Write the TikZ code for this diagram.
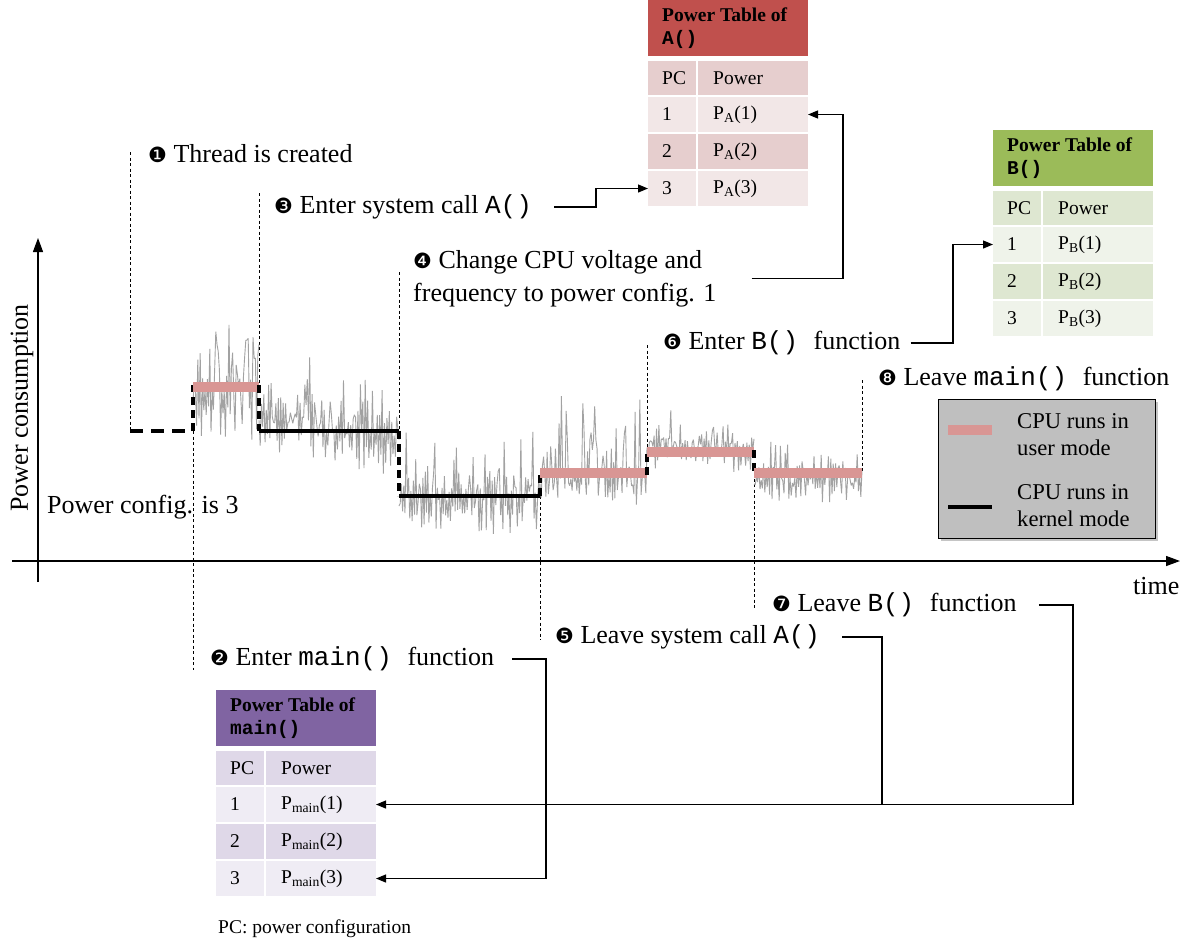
\documentclass[tikz,border=0pt]{standalone}
\usepackage{fontspec}
\setmainfont{Liberation Serif}
\setmonofont{Liberation Mono}
\newfontfamily\dingfont{DejaVu Sans}
\usetikzlibrary{arrows.meta,shadows}

\definecolor{userpink}{RGB}{217,150,148}
\definecolor{noisegray}{RGB}{162,162,162}
\definecolor{headA}{RGB}{192,80,77}
\definecolor{darkA}{RGB}{230,206,206}
\definecolor{lightA}{RGB}{242,231,231}
\definecolor{headB}{RGB}{155,187,89}
\definecolor{darkB}{RGB}{222,231,209}
\definecolor{lightB}{RGB}{239,243,234}
\definecolor{headM}{RGB}{128,100,162}
\definecolor{darkM}{RGB}{223,216,232}
\definecolor{lightM}{RGB}{239,236,244}
\definecolor{legendgray}{RGB}{191,191,191}

\newcommand{\tabfont}{\fontsize{19.5}{23.5}\selectfont}
\newcommand{\lblfont}{\fontsize{26}{33}\selectfont}
\newcommand{\legfont}{\fontsize{22.6}{27}\selectfont}
\newcommand{\stepnum}[1]{{\dingfont\fontsize{21}{21}\selectfont #1}}

\tikzset{
  cellbox/.style={anchor=north west, inner sep=0pt, outer sep=0pt, draw=none},
  cellL/.style={cellbox, minimum width=48pt, minimum height=35pt},
  cellR/.style={cellbox, minimum width=110pt, minimum height=35pt},
  headcell/.style={cellbox, minimum width=160pt, minimum height=56pt},
  celltxt/.style={anchor=west, inner sep=0pt, font=\tabfont, align=left},
  lbl/.style={anchor=west, inner sep=0pt, font=\lblfont, align=left},
  legtxt/.style={anchor=west, inner sep=0pt, font=\legfont, align=left},
  event/.style={line width=0.9pt, dash pattern=on 3pt off 2.5pt},
  conn/.style={line width=1.2pt, -{Triangle[length=10pt,width=8pt]}},
  plain/.style={line width=1.2pt},
  axis/.style={line width=1.3pt, -{Triangle[length=14pt,width=10pt]}},
  noise/.style={line width=0.9pt, color=noisegray, line join=bevel},
  usermode/.style={line width=10pt, color=userpink},
  kernelmode/.style={line width=4pt, black},
  switch/.style={line width=4pt, black, dash pattern=on 8pt off 5pt},
  idle/.style={line width=4pt, black, dash pattern=on 13pt off 8pt}
}

% one power table: prefix, x, top y, header colour, dark band, light band, function name, subscript
\newcommand{\ptable}[8]{%
  \node[headcell, fill=#4] (#1h) at (#2,#3) {};
  \node[celltxt, font=\tabfont\bfseries] at ([xshift=14pt]#1h.west) {Power Table of\\\texttt{\bfseries #7}};
  \node[cellL, fill=#5, minimum height=34pt] (#1pl) at (#2,{#3+61}) {};
  \node[cellR, fill=#5, minimum height=34pt] (#1pr) at ({#2+50},{#3+61}) {};
  \node[cellL, fill=#6] (#11l) at (#2,{#3+97}) {};
  \node[cellR, fill=#6] (#11r) at ({#2+50},{#3+97}) {};
  \node[cellL, fill=#5] (#12l) at (#2,{#3+134}) {};
  \node[cellR, fill=#5] (#12r) at ({#2+50},{#3+134}) {};
  \node[cellL, fill=#6] (#13l) at (#2,{#3+171}) {};
  \node[cellR, fill=#6] (#13r) at ({#2+50},{#3+171}) {};
  \node[celltxt] at ([xshift=14pt]#1pl.west) {PC};
  \node[celltxt] at ([xshift=15pt]#1pr.west) {Power};
  \node[celltxt] at ([xshift=14pt]#11l.west) {1};
  \node[celltxt] at ([xshift=15pt]#11r.west) {P\textsubscript{#8}(1)};
  \node[celltxt] at ([xshift=14pt]#12l.west) {2};
  \node[celltxt] at ([xshift=15pt]#12r.west) {P\textsubscript{#8}(2)};
  \node[celltxt] at ([xshift=14pt]#13l.west) {3};
  \node[celltxt] at ([xshift=15pt]#13r.west) {P\textsubscript{#8}(3)};
}

% measured power trace: x0, x1, samples, centre at x0, centre at x1, spread, spike height
\newcommand{\trace}[7]{%
  \draw[noise] (#1,#4) foreach \k in {1,...,#3} {
    -- ({#1+((#2-#1)/#3)*\k}, {#4+((#5-#4)/#3)*\k+#6*(2*mod(\k,2)-1)*rnd-#7*pow(rnd,3)}) };
}

\begin{document}
\begin{tikzpicture}[x=1pt,y=-1pt]
\useasboundingbox[fill=white] (0,0) rectangle (1191,946);
\pgfmathsetseed{11}

% axes
\draw[axis] (38,582) -- (38,238);
\draw[axis] (12,561) -- (1180,561);
\node[rotate=90, font=\lblfont, inner sep=0pt] (ylab) at (22,408) {Power consumption};
\node[lbl] (tlab) at (1133,586) {time};
\node[lbl] (pc3) at (47,507) {Power config. is 3};

% event markers
\draw[event] (130,152) -- (130,431);
\draw[event] (259,193) -- (259,387);
\draw[event] (399,272) -- (399,431);
\draw[event] (193,431) -- (193,670);
\draw[event] (540,496) -- (540,640);
\draw[event] (647,345) -- (647,452);
\draw[event] (754,473) -- (754,608);
\draw[event] (862,380) -- (862,473);

% power trace
\trace{193}{259}{55}{402}{402}{38}{100}
\trace{259}{399}{116}{420}{448}{32}{45}
\trace{399}{540}{118}{506}{508}{30}{55}
\trace{540}{647}{90}{484}{488}{18}{75}
\trace{647}{754}{90}{456}{456}{16}{32}
\trace{754}{862}{90}{484}{486}{18}{32}

% execution mode levels
\draw[idle] (130,431) -- (193,431);
\draw[switch] (193,431) -- (193,385);
\draw[usermode] (193,387) -- (259,387);
\draw[switch] (259,385) -- (259,431);
\draw[kernelmode] (259,431) -- (399,431);
\draw[switch] (399,431) -- (399,496);
\draw[kernelmode] (399,496) -- (540,496);
\draw[switch] (540,496) -- (540,471);
\draw[usermode] (540,473) -- (647,473);
\draw[switch] (647,475) -- (647,450);
\draw[usermode] (647,452) -- (754,452);
\draw[switch] (754,450) -- (754,475);
\draw[usermode] (754,473) -- (862,473);

% power tables
\ptable{A}{648}{0}{headA}{darkA}{lightA}{A()}{A}
\ptable{B}{993}{130}{headB}{darkB}{lightB}{B()}{B}
\ptable{M}{216}{690}{headM}{darkM}{lightM}{main()}{main}

% event labels
\node[lbl] (l1) at (148,154) {\stepnum{❶} Thread is created};
\node[lbl] (l3) at (274,207) {\stepnum{❸} Enter system call \texttt{A()}};
\node[lbl] (l4) at (413,278.5) {\stepnum{❹} Change CPU voltage and\\frequency to power config. 1};
\node[lbl] (l6) at (663,343) {\stepnum{❻} Enter \texttt{B()~}function};
\node[lbl] (l8) at (878,379) {\stepnum{❽} Leave \texttt{main()~}function};
\node[lbl] (l2) at (210,659) {\stepnum{❷} Enter \texttt{main()~}function};
\node[lbl] (l5) at (555,637) {\stepnum{❺} Leave system call \texttt{A()}};
\node[lbl] (l7) at (772,605) {\stepnum{❼} Leave \texttt{B()~}function};

% table lookups
\draw[conn] ([xshift=22pt]l3.east) -- ++(42,0) |- (A3l.west);
\draw[conn] ([xshift=35pt]l4.east) -| ([xshift=35pt]A1r.east) -- (A1r.east);
\draw[conn] ([xshift=10pt]l6.east) -| ([xshift=-40pt]B1l.west) -- (B1l.west);
\draw[conn] ([xshift=18pt]l2.east) -| ([xshift=170pt]M3r.east) -- (M3r.east);
\draw[plain] ([xshift=22pt]l5.east) -| ([xshift=506pt]M1r.east);
\draw[conn] ([xshift=22pt]l7.east) -| ([xshift=697pt]M1r.east) -- (M1r.east);

% legend
\node[cellbox, draw=black, line width=1pt, fill=legendgray, minimum width=217pt, minimum height=139pt,
      drop shadow={shadow xshift=3pt, shadow yshift=-3pt, opacity=0.45}] (leg) at (938,399) {};
\draw[usermode] ([xshift=10pt]leg.west |- 0,430) -- ++(44,0);
\draw[kernelmode] ([xshift=10pt]leg.west |- 0,507) -- ++(44,0);
\node[legtxt] (legu) at (1017,434.5) {CPU runs in\\user mode};
\node[legtxt] (legk) at (1017,505.5) {CPU runs in\\kernel mode};

\node[celltxt] (note) at (218,929) {PC: power configuration};
\end{tikzpicture}
\end{document}
